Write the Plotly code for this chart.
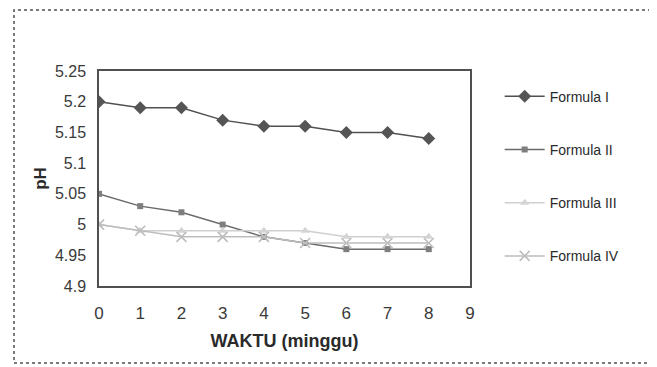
import plotly.graph_objects as go

weeks = [0, 1, 2, 3, 4, 5, 6, 7, 8]
formula_1 = [5.20, 5.19, 5.19, 5.17, 5.16, 5.16, 5.15, 5.15, 5.14]
formula_2 = [5.05, 5.03, 5.02, 5.00, 4.98, 4.97, 4.96, 4.96, 4.96]
formula_3 = [5.00, 4.99, 4.99, 4.99, 4.99, 4.99, 4.98, 4.98, 4.98]
formula_4 = [5.00, 4.99, 4.98, 4.98, 4.98, 4.97, 4.97, 4.97, 4.97]
series_names = ["Formula I", "Formula II", "Formula III", "Formula IV"]
y_ticks = [4.9, 4.95, 5.0, 5.05, 5.1, 5.15, 5.2, 5.25]
y_tick_text = ["4.9", "4.95", "5", "5.05", "5.1", "5.15", "5.2", "5.25"]
x_ticks = [0, 1, 2, 3, 4, 5, 6, 7, 8, 9]

styles = [
    dict(color="#505050", symbol="diamond", size=10, mcolor="#555555", mline=0),
    dict(color="#6a6a6a", symbol="square", size=6, mcolor="#7e7e7e", mline=0),
    dict(color="#cfcfcf", symbol="triangle-up", size=8, mcolor="#d4d4d4", mline=0),
    dict(color="#bdbdbd", symbol="x-thin-open", size=10, mcolor="#bdbdbd", mline=1.6),
]

fig = go.Figure()
for name, vals, st in zip(series_names, [formula_1, formula_2, formula_3, formula_4], styles):
    fig.add_trace(go.Scatter(
        x=weeks, y=vals, name=name, mode="lines+markers",
        legendgroup=name,
        line=dict(color=st["color"], width=1.5),
        marker=dict(symbol=st["symbol"], size=st["size"], color=st["mcolor"],
                    line=dict(width=st["mline"], color=st["mcolor"])),
    ))

W, H = 649, 359
L, T, R, B = 91, 63, 187, 81
pw, ph = W - L - R, H - T - B

font_family = "Liberation Sans, Arial, sans-serif"
fig.update_layout(
    width=W, height=H,
    margin=dict(l=L, r=R, t=T, b=B),
    paper_bgcolor="white", plot_bgcolor="white",
    font=dict(family=font_family, color="#2a2a2a"),
    showlegend=True,
    legend=dict(
        x=1.08, xanchor="left", y=0.955, yanchor="top",
        font=dict(size=14, color="#2a2a2a"),
        tracegroupgap=32, itemwidth=40,
        bgcolor="rgba(0,0,0,0)",
    ),
    xaxis=dict(
        range=[0, 9], tickvals=x_ticks, showgrid=False, zeroline=False,
        showline=True, linecolor="#505050", linewidth=1.5, mirror=True,
        ticks="", ticklabelstandoff=11,
        tickfont=dict(size=17, color="#3a3a3a"),
        title=dict(text="<b>WAKTU (minggu)</b>", font=dict(size=18, color="#2a2a2a"), standoff=12),
    ),
    yaxis=dict(
        range=[4.9, 5.25], tickvals=y_ticks, ticktext=y_tick_text,
        showgrid=False, zeroline=False,
        showline=True, linecolor="#505050", linewidth=1.5, mirror=True,
        ticks="", ticklabelstandoff=8,
        tickfont=dict(size=16, color="#3a3a3a"),
        title=dict(text="<b>pH</b>", font=dict(size=17, color="#2a2a2a"), standoff=4),
    ),
    shapes=[dict(type="rect", xref="paper", yref="paper",
                 x0=(6 - L) / pw, x1=(643 - L) / pw,
                 y0=(T + ph - 355) / ph, y1=(T + ph - 2) / ph,
                 line=dict(color="#505050", width=1.5, dash="dot"))],
)

fig.write_html("out.html")
